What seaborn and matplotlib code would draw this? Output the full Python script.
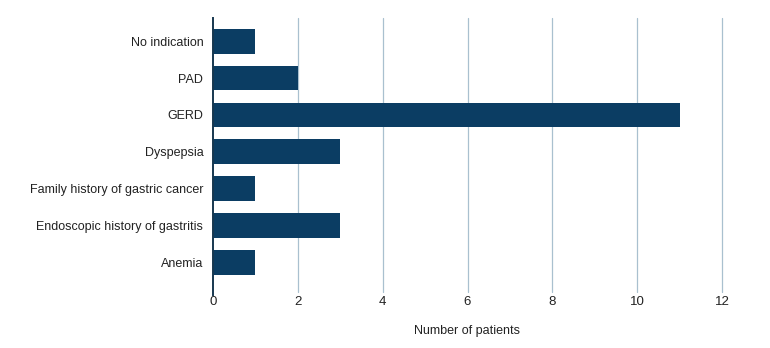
import matplotlib
matplotlib.use("Agg")
import matplotlib.pyplot as plt
import seaborn as sns
import pandas as pd

# data
indications = ["No indication", "PAD", "GERD", "Dyspepsia",
               "Family history of gastric cancer",
               "Endoscopic history of gastritis", "Anemia"]
patients = [1, 2, 11, 3, 1, 3, 1]
x_ticks = [0, 2, 4, 6, 8, 10, 12]

df = pd.DataFrame({"indication": indications, "patients": patients})

sns.set_style("white")
plt.rcParams["font.family"] = ["Liberation Sans", "DejaVu Sans"]

bar_color = "#0b3d63"
grid_color = "#a9c0cf"
text_color = "#222222"

fig = plt.figure(figsize=(7.7, 3.48), dpi=100)
ax = fig.add_axes([213 / 770, 1 - 288 / 348, (722 - 213) / 770, 270 / 348])

sns.barplot(data=df, x="patients", y="indication", orient="h",
            color=bar_color, width=0.67, saturation=1, linewidth=0, ax=ax)

ax.set_xlim(0, 12)
ax.set_ylim(6.7, -0.63)
ax.set_xticks(x_ticks)
ax.set_xticklabels([str(t) for t in x_ticks], fontsize=9.5, color=text_color)
ax.tick_params(axis="y", length=0, pad=7, labelsize=9, labelcolor=text_color)
ax.tick_params(axis="x", length=0, pad=6)

# vertical gridlines at every tick, drawn behind the bars
for t in x_ticks[1:]:
    ax.axvline(t, ymin=-0.015, ymax=1, color=grid_color, lw=0.9, zorder=0, clip_on=False)

for side in ["top", "right", "bottom"]:
    ax.spines[side].set_visible(False)
ax.spines["left"].set_color("#17374f")
ax.spines["left"].set_linewidth(1.4)
ax.spines["left"].set_bounds(6.9, -0.63)

ax.set_ylabel("")
ax.set_xlabel("Number of patients", fontsize=9, color=text_color, labelpad=12)

fig.savefig("out.png", dpi=100)
